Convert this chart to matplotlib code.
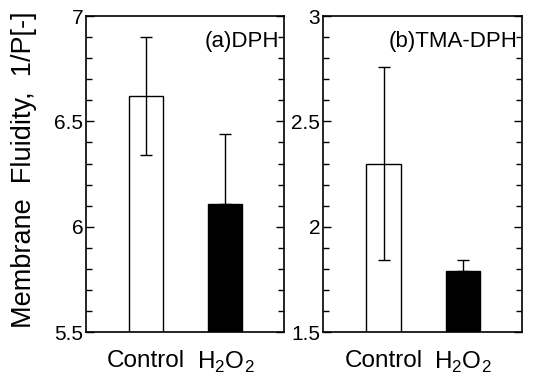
import matplotlib
matplotlib.use('Agg')
import matplotlib.pyplot as plt
from matplotlib.ticker import MultipleLocator

plt.rcParams['font.family'] = ['Liberation Sans', 'DejaVu Sans']
plt.rcParams['mathtext.fontset'] = 'custom'
plt.rcParams['mathtext.rm'] = 'Liberation Sans'

# data
groups = ['Control', r'H$_\mathrm{2}$O$_\mathrm{2}$']
dph_mean = [6.62, 6.11]
dph_err_up = [0.28, 0.33]
dph_err_down = [0.28, 0.0]
tma_mean = [2.30, 1.79]
tma_err_up = [0.46, 0.05]
tma_err_down = [0.46, 0.0]
colors = ['white', 'black']

fig = plt.figure(figsize=(5.34, 3.83), dpi=100)
ax1 = fig.add_axes([0.161, 0.133, 0.371, 0.825])
ax2 = fig.add_axes([0.605, 0.133, 0.373, 0.825])

panels = [
    (ax1, dph_mean, dph_err_down, dph_err_up, (5.5, 7), '(a)DPH'),
    (ax2, tma_mean, tma_err_down, tma_err_up, (1.5, 3), '(b)TMA-DPH'),
]

for ax, mean, lo, hi, ylim, tag in panels:
    x = range(len(groups))
    ax.bar(x, mean, width=0.43, color=colors, edgecolor='black', linewidth=1.0,
           yerr=[lo, hi], error_kw=dict(ecolor='black', elinewidth=1.0, capsize=4.5, capthick=1.0))
    ax.set_xlim(-0.76, 1.74)
    ax.set_ylim(*ylim)
    ax.set_xticks(list(x))
    ax.set_xticklabels(groups, fontsize=17.5)
    ax.tick_params(axis='x', length=0, pad=13)
    ax.yaxis.set_major_locator(MultipleLocator(0.5))
    ax.yaxis.set_minor_locator(MultipleLocator(0.1))
    ax.yaxis.set_major_formatter(plt.FuncFormatter(lambda v, p: f'{v:g}'))
    ax.tick_params(axis='y', which='both', direction='in', left=True, right=True,
                   labelsize=15, pad=2, width=1.0)
    ax.tick_params(axis='y', which='major', length=6)
    ax.tick_params(axis='y', which='minor', length=4)
    for s in ax.spines.values():
        s.set_linewidth(1.2)
    ax.text(0.975, 0.92, tag, transform=ax.transAxes, ha='right', va='center', fontsize=16)

fig.text(0.045, 0.556, 'Membrane  Fluidity,  1/P[-]', rotation=90, ha='center', va='center', fontsize=19.5)

fig.savefig('out.png', dpi=100)
